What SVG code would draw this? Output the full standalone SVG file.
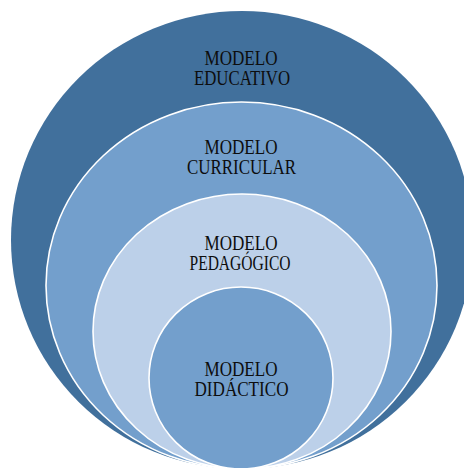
<svg xmlns="http://www.w3.org/2000/svg" width="464" height="468" viewBox="0 0 464 468">
<style>
.ring{stroke:#ffffff;stroke-width:1.6}
.t{font-family:"Liberation Serif","Times New Roman",serif;font-size:20px;fill:#0d0d0d;text-anchor:middle}
</style>
<rect width="464" height="468" fill="#ffffff"/>
<g id="educativo">
<ellipse cx="242" cy="240" rx="231" ry="229" fill="#41709C"/>
<text class="t" x="241" y="65" textLength="73" lengthAdjust="spacingAndGlyphs">MODELO</text>
<text class="t" x="242" y="85" textLength="96" lengthAdjust="spacingAndGlyphs">EDUCATIVO</text>
</g>
<g id="curricular">
<ellipse class="ring" cx="241.5" cy="285.5" rx="195.5" ry="183.5" fill="#739FCC"/>
<text class="t" x="241" y="154" textLength="73" lengthAdjust="spacingAndGlyphs">MODELO</text>
<text class="t" x="241.5" y="174" textLength="109" lengthAdjust="spacingAndGlyphs">CURRICULAR</text>
</g>
<g id="pedagogico">
<ellipse class="ring" cx="242" cy="331.5" rx="149" ry="137.5" fill="#BCD0E9"/>
<text class="t" x="241" y="249.5" textLength="73" lengthAdjust="spacingAndGlyphs">MODELO</text>
<text class="t" x="240" y="270" textLength="101" lengthAdjust="spacingAndGlyphs">PEDAGÓGICO</text>
</g>
<g id="didactico">
<ellipse class="ring" cx="241" cy="378" rx="92" ry="91" fill="#739FCC"/>
<text class="t" x="241" y="376" textLength="73" lengthAdjust="spacingAndGlyphs">MODELO</text>
<text class="t" x="241.5" y="396" textLength="94" lengthAdjust="spacingAndGlyphs">DIDÁCTICO</text>
</g>
<g id="connectors"/>
</svg>
